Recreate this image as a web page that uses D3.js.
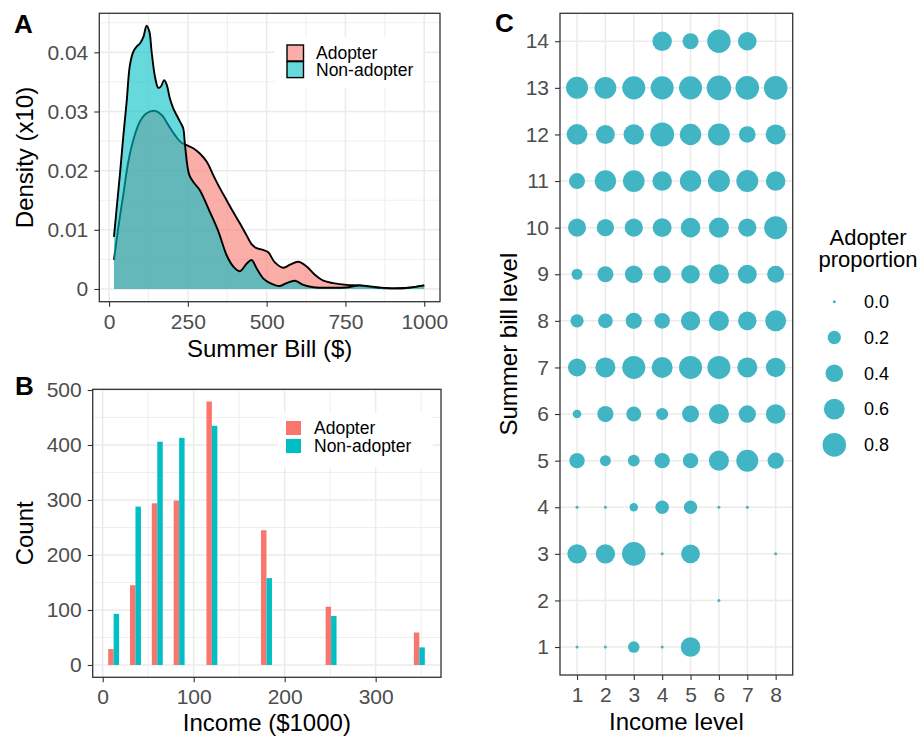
<!DOCTYPE html>
<html>
<head>
<meta charset="utf-8">
<script src="https://cdn.jsdelivr.net/npm/d3@7"></script>
<style>
  body { margin: 0; background: #fff; }
  svg text { font-family: "Liberation Sans", Arial, Helvetica, sans-serif; }
</style>
</head>
<body>
<svg id="fig" width="920" height="737"></svg>
<script>
// ---- data ----
const groups = ['Adopter', 'Non-adopter'];
const groupColors = ['#F8766D', '#00BFC4'];

// panel A: density of summer bill ($), pairs of [bill, density]
const adopterDensity = [
  [15.5, .0049], [29, .0103], [45, .0159], [61, .0215], [77, .0252], [98, .0283],
  [119, .0297], [146, .0301], [167, .0294], [188, .0277], [209, .0260], [230, .0247],
  [251, .0242], [267, .0238], [288, .0229], [310, .0215], [331, .0192], [352, .0170],
  [373, .0150], [394, .0130], [415, .0111], [436, .0091], [452, .0076], [468, .0069],
  [489, .0066], [505, .0062], [526, .0045], [553, .0036], [574, .0041], [600, .0046],
  [627, .0038], [653, .0024], [680, .0014], [711, .0010], [754, .0007], [796, .0006],
  [849, .0002], [902, .0001], [955, .0002], [1000, .0006]
];
const nonAdopterDensity = [
  [15.5, .0088], [24, .0136], [35, .0197], [45, .0257], [56, .0318], [66, .0378],
  [77, .0401], [88, .0410], [98, .0415], [109, .0426], [119, .0445], [128, .0435],
  [135, .0401], [146, .0358], [156, .0340], [164, .0342], [175, .0353], [183, .0345],
  [193, .0322], [204, .0305], [214, .0294], [225, .0283], [235, .0272], [241, .0243],
  [255, .0192], [273, .0177], [288, .0167], [320, .0130], [347, .0097], [373, .0057],
  [394, .0038], [415, .0030], [437, .0043], [452, .0049], [468, .0035], [489, .0018],
  [511, .0010], [542, .0005], [563, .0010], [590, .0014], [616, .0007], [648, .0003],
  [700, .0002], [760, .0003], [790, .0006], [850, .0003], [900, .0001], [950, .0002],
  [1000, .0006]
];
const billTicks = [0, 250, 500, 750, 1000];
const densityTicks = [0, 0.01, 0.02, 0.03, 0.04];

// panel B: counts by income ($1000)
const incomeValues = [12, 36, 60, 84, 120, 180, 251, 348];
const adopterCounts = [29, 145, 294, 299, 479, 245, 106, 59];
const nonAdopterCounts = [93, 288, 406, 413, 435, 158, 89, 32];
const incomeTicks = [0, 100, 200, 300];
const countTicks = [0, 100, 200, 300, 400, 500];

// panel C: adopter proportion, rows = summer bill level 1..14, cols = income level 1..8
const incomeLevels = [1, 2, 3, 4, 5, 6, 7, 8];
const billLevels = [1, 2, 3, 4, 5, 6, 7, 8, 9, 10, 11, 12, 13, 14];
const adopterProportion = [
  [0, 0, 0.14, 0, 0.52, null, null, null],
  [null, null, null, null, null, 0, null, null],
  [0.51, 0.51, 0.80, 0, 0.48, null, null, 0],
  [0, 0, 0.055, 0.21, 0.20, 0, 0, null],
  [0.29, 0.12, 0.15, 0.29, 0.29, 0.55, 0.68, 0.33],
  [0.06, 0.33, 0.27, 0.16, 0.37, 0.55, 0.39, 0.52],
  [0.43, 0.55, 0.76, 0.61, 0.76, 0.76, 0.55, 0.52],
  [0.20, 0.26, 0.33, 0.30, 0.50, 0.55, 0.46, 0.61],
  [0.12, 0.32, 0.41, 0.39, 0.46, 0.55, 0.48, 0.37],
  [0.43, 0.39, 0.44, 0.48, 0.52, 0.55, 0.44, 0.76],
  [0.32, 0.64, 0.66, 0.52, 0.64, 0.68, 0.68, 0.52],
  [0.59, 0.48, 0.57, 0.83, 0.64, 0.68, 0.35, 0.55],
  [0.68, 0.67, 0.76, 0.76, 0.76, 0.88, 0.80, 0.80],
  [null, null, null, 0.51, 0.32, 0.79, 0.46, null]
];
const proportionLegend = [0, 0.2, 0.4, 0.6, 0.8];

// ---- helpers ----
const svg = d3.select('#fig');
const gridCol = '#EBEBEB', borderCol = '#333333', tickTextCol = '#4D4D4D';

function midpoints(ticks, domain) {
  const step = ticks[1] - ticks[0];
  const out = [];
  for (let v = ticks[0] - step / 2; v <= ticks[ticks.length - 1] + step / 2 + 1e-9; v += step) {
    if (v >= Math.min(...domain) && v <= Math.max(...domain)) out.push(v);
  }
  return out;
}

function grid(g, x, y, box, xMaj, xMin, yMaj, yMin) {
  const gg = g.append('g');
  const vLines = (vals, w) => gg.selectAll(null).data(vals).enter().append('line')
    .attr('x1', d => x(d)).attr('x2', d => x(d)).attr('y1', box.top).attr('y2', box.bottom)
    .attr('stroke', gridCol).attr('stroke-width', w);
  const hLines = (vals, w) => gg.selectAll(null).data(vals).enter().append('line')
    .attr('y1', d => y(d)).attr('y2', d => y(d)).attr('x1', box.left).attr('x2', box.right)
    .attr('stroke', gridCol).attr('stroke-width', w);
  vLines(xMin, 0.8); hLines(yMin, 0.8);
  vLines(xMaj, 1.5); hLines(yMaj, 1.5);
}

function styleAxis(s) {
  s.attr('font-size', null).attr('font-family', null);
  s.select('.domain').remove();
  s.selectAll('.tick line').attr('stroke', borderCol).attr('stroke-width', 1.1);
  s.selectAll('.tick text').attr('fill', tickTextCol).style('font-size', '21px');
}

function axes(g, x, y, box, xTicks, yTicks, fx, fy) {
  g.append('g').attr('transform', `translate(0,${box.bottom})`)
    .call(d3.axisBottom(x).tickValues(xTicks).tickSize(5).tickPadding(7).tickFormat(fx))
    .call(styleAxis);
  g.append('g').attr('transform', `translate(${box.left},0)`)
    .call(d3.axisLeft(y).tickValues(yTicks).tickSize(5).tickPadding(6).tickFormat(fy))
    .call(styleAxis);
}

function border(g, box) {
  g.append('rect').attr('x', box.left).attr('y', box.top)
    .attr('width', box.right - box.left).attr('height', box.bottom - box.top)
    .attr('fill', 'none').attr('stroke', borderCol).attr('stroke-width', 1.3);
}

function title(text, x, y, rotate) {
  svg.append('text')
    .attr('transform', rotate ? `translate(${x},${y}) rotate(-90)` : `translate(${x},${y})`)
    .attr('text-anchor', 'middle').style('font-size', '24px').attr('fill', '#000').text(text);
}

function panelLetter(text, x, y) {
  svg.append('text').attr('x', x).attr('y', y).style('font-size', '26px')
    .style('font-weight', 'bold').text(text);
}

// ---- panel A: density ----
const A = { left: 99.3, right: 440, top: 13.3, bottom: 301.7 };
const xA = d3.scaleLinear().domain([-31, 1050]).range([A.left, A.right]);
const yA = d3.scaleLinear().domain([-0.00215, 0.0466]).range([A.bottom, A.top]);
const gA = svg.append('g');

grid(gA, xA, yA, A, billTicks, midpoints(billTicks, xA.domain()),
  densityTicks, midpoints(densityTicks, yA.domain()));

const areaA = d3.area().x(d => xA(d[0])).y0(yA(0)).y1(d => yA(d[1]))
  .curve(d3.curveCatmullRom.alpha(0.5));
const lineA = d3.line().x(d => xA(d[0])).y(d => yA(d[1]))
  .curve(d3.curveCatmullRom.alpha(0.5));

[adopterDensity, nonAdopterDensity].forEach((series, i) => {
  gA.append('path').datum(series).attr('d', areaA)
    .attr('fill', groupColors[i]).attr('fill-opacity', 0.6);
  gA.append('path').datum(series).attr('d', lineA)
    .attr('fill', 'none').attr('stroke', '#000').attr('stroke-width', 1.9)
    .attr('stroke-linejoin', 'round');
});

// legend A
gA.append('rect').attr('x', 275).attr('y', 37).attr('width', 148).attr('height', 51).attr('fill', '#fff');
groups.forEach((name, i) => {
  const ky = 45 + i * 16.6;
  gA.append('rect').attr('x', 287).attr('y', ky).attr('width', 16.5).attr('height', 16)
    .attr('fill', groupColors[i]).attr('fill-opacity', 0.6)
    .attr('stroke', '#000').attr('stroke-width', 1.4);
  gA.append('text').attr('x', 316).attr('y', ky + 8).attr('dy', '0.35em')
    .style('font-size', '17.5px').text(name);
});

axes(gA, xA, yA, A, billTicks, densityTicks, d3.format('d'),
  d => d === 0 ? '0' : d3.format('.2f')(d));
border(gA, A);
title('Summer Bill ($)', (A.left + A.right) / 2, 356.5);
title('Density (x10)', 33, (A.top + A.bottom) / 2, true);
panelLetter('A', 14, 33);

// ---- panel B: counts ----
const B = { left: 92.7, right: 441, top: 389.3, bottom: 677.3 };
const xB = d3.scaleLinear().domain([-11, 371.8]).range([B.left, B.right]);
const yB = d3.scaleLinear().domain([-22.4, 501.3]).range([B.bottom, B.top]);
const gB = svg.append('g');

grid(gB, xB, yB, B, incomeTicks, midpoints(incomeTicks, xB.domain()),
  countTicks, midpoints(countTicks, yB.domain()));

const barHalf = 6; // each bar spans 6 income units on either side of the bin value
[adopterCounts, nonAdopterCounts].forEach((counts, i) => {
  gB.selectAll(null).data(incomeValues).enter().append('rect')
    .attr('x', d => xB(i === 0 ? d - barHalf : d))
    .attr('width', xB(barHalf) - xB(0))
    .attr('y', (d, j) => yB(counts[j]))
    .attr('height', (d, j) => yB(0) - yB(counts[j]))
    .attr('fill', groupColors[i]);
});

// legend B
gB.append('rect').attr('x', 277).attr('y', 413).attr('width', 156).attr('height', 54).attr('fill', '#fff');
groups.forEach((name, i) => {
  const ky = 421 + i * 18;
  gB.append('rect').attr('x', 286).attr('y', ky).attr('width', 15).attr('height', 14)
    .attr('fill', groupColors[i]);
  gB.append('text').attr('x', 314).attr('y', ky + 7).attr('dy', '0.35em')
    .style('font-size', '17.5px').text(name);
});

axes(gB, xB, yB, B, incomeTicks, countTicks, d3.format('d'), d3.format('d'));
border(gB, B);
title('Income ($1000)', (B.left + B.right) / 2, 731);
title('Count', 33, (B.top + B.bottom) / 2, true);
panelLetter('B', 15, 395);

// ---- panel C: bubble grid ----
const C = { left: 560, right: 792.7, top: 13.3, bottom: 675 };
const xC = d3.scaleLinear().domain([0.4, 8.6]).range([C.left, C.right]);
const yC = d3.scaleLinear().domain([0.4, 14.6]).range([C.bottom, C.top]);
const rC = d3.scaleSqrt().domain([0, 1]).range([1.5, 13]);
const dotCol = '#42B5C4';
const gC = svg.append('g');

grid(gC, xC, yC, C, incomeLevels, [], billLevels, []);

const cells = [];
billLevels.forEach((b, i) => incomeLevels.forEach((inc, j) => {
  const v = adopterProportion[i][j];
  if (v !== null) cells.push({ bill: b, income: inc, value: v });
}));
gC.selectAll('circle.cell').data(cells).enter().append('circle').attr('class', 'cell')
  .attr('cx', d => xC(d.income)).attr('cy', d => yC(d.bill)).attr('r', d => rC(d.value))
  .attr('fill', dotCol);

axes(gC, xC, yC, C, incomeLevels, billLevels, d3.format('d'), d3.format('d'));
border(gC, C);
title('Income level', (C.left + C.right) / 2, 730);
title('Summer bill level', 517, (C.top + C.bottom) / 2, true);
panelLetter('C', 495, 32);

// legend C
const lg = svg.append('g');
['Adopter', 'proportion'].forEach((t, i) => {
  lg.append('text').attr('x', 868).attr('y', 245 + i * 22).attr('text-anchor', 'middle')
    .style('font-size', '22px').text(t);
});
proportionLegend.forEach((v, i) => {
  const ly = 301.7 + i * 35.8;
  lg.append('circle').attr('cx', 834.3).attr('cy', ly).attr('r', rC(v)).attr('fill', dotCol);
  lg.append('text').attr('x', 864).attr('y', ly).attr('dy', '0.35em')
    .style('font-size', '18px').text(d3.format('.1f')(v));
});
</script>
</body>
</html>
